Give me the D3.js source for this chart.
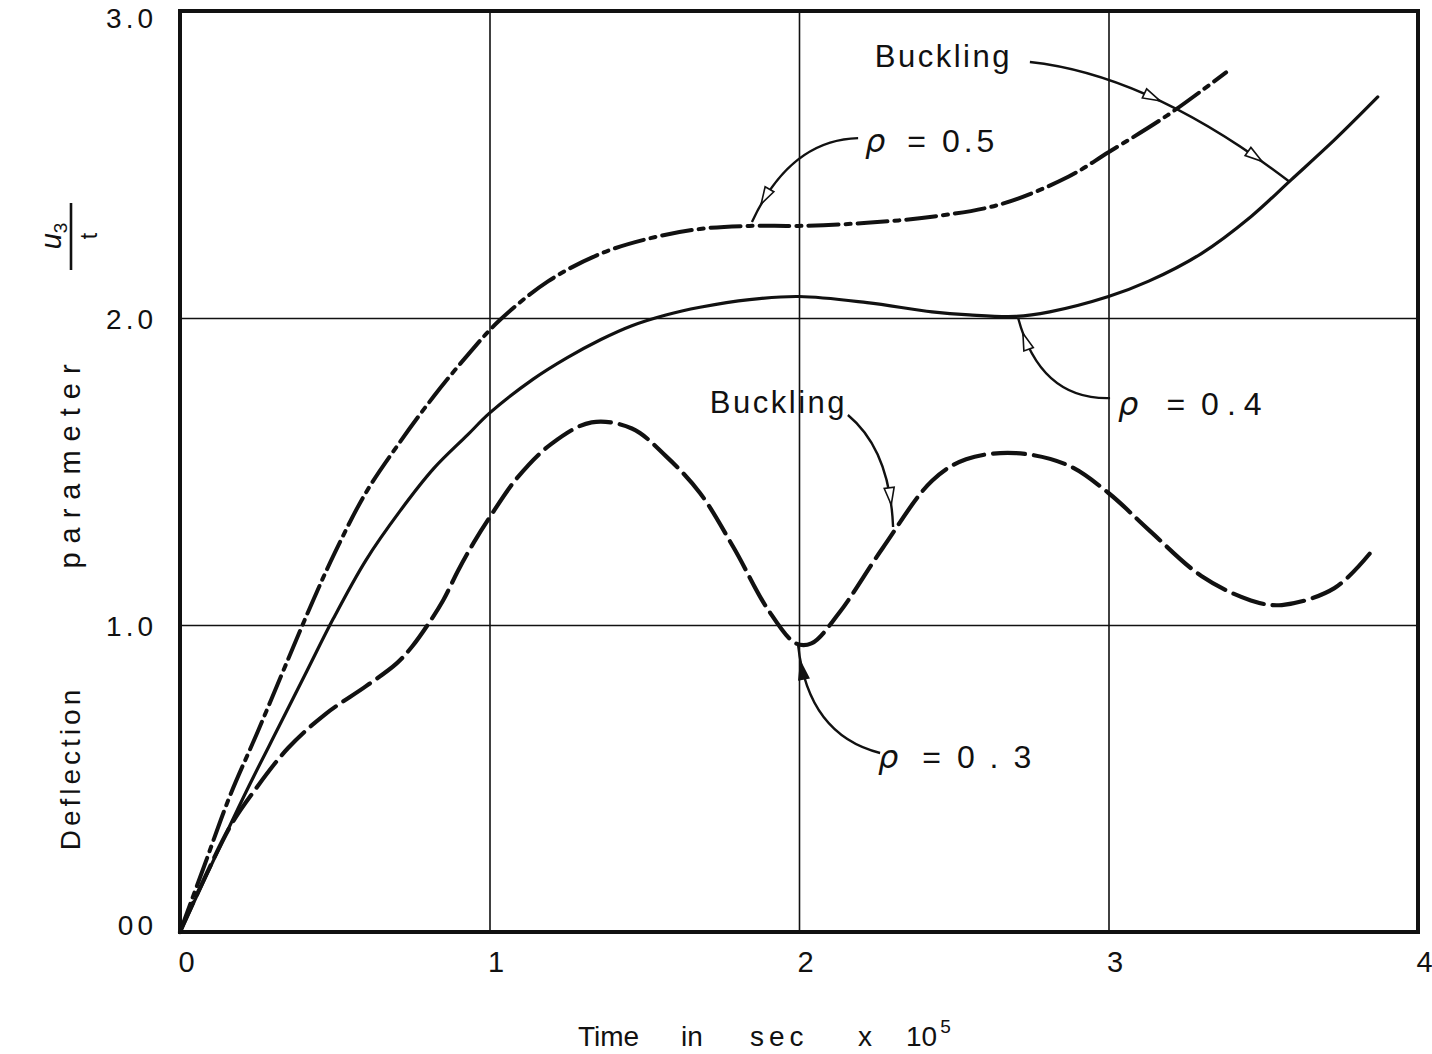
<!DOCTYPE html>
<html>
<head>
<meta charset="utf-8">
<script src="https://cdn.jsdelivr.net/npm/d3@7"></script>
<style>
  html, body { margin: 0; padding: 0; background: #fff; }
  svg { display: block; }
  text { font-family: "Liberation Sans", Arial, sans-serif; fill: #111; }
</style>
</head>
<body>
<svg id="chart" width="1432" height="1054"></svg>
<script>
// ---------- data ----------
const xTicks = [0, 1, 2, 3, 4];
const xTickLabels = ["0", "1", "2", "3", "4"];
const yTicks = [0, 1, 2, 3];
const yTickLabels = ["00", "1.0", "2.0", "3.0"];

// rho = 0.5 (dash-dot)
const t05 = [0, 0.08, 0.16, 0.25, 0.35, 0.43, 0.50, 0.60, 0.71, 0.82, 0.93, 1.03, 1.19, 1.36, 1.52, 1.68, 1.84, 2.0, 2.22, 2.43, 2.65, 2.87, 3.0, 3.19, 3.38];
const v05 = [0, 0.22, 0.44, 0.65, 0.89, 1.08, 1.235, 1.43, 1.595, 1.745, 1.88, 1.99, 2.12, 2.21, 2.26, 2.29, 2.30, 2.30, 2.31, 2.33, 2.37, 2.46, 2.54, 2.66, 2.80];

// rho = 0.4 (solid)
const t04 = [0, 0.13, 0.22, 0.32, 0.41, 0.495, 0.60, 0.71, 0.82, 0.93, 1.0, 1.14, 1.25, 1.36, 1.46, 1.57, 1.68, 1.84, 2.0, 2.22, 2.43, 2.55, 2.70, 2.81, 3.0, 3.13, 3.30, 3.46, 3.59, 3.73, 3.87];
const v04 = [0, 0.28, 0.47, 0.67, 0.85, 1.02, 1.21, 1.37, 1.51, 1.62, 1.69, 1.80, 1.87, 1.93, 1.975, 2.01, 2.035, 2.06, 2.07, 2.05, 2.02, 2.01, 2.005, 2.02, 2.07, 2.12, 2.21, 2.33, 2.45, 2.58, 2.72];

// rho = 0.3 (dashed)
const t03 = [0, 0.16, 0.24, 0.35, 0.47, 0.60, 0.70, 0.75, 0.80, 0.85, 0.90, 0.95, 1.0, 1.09, 1.20, 1.33, 1.46, 1.57, 1.68, 1.79, 1.90, 1.99, 2.04, 2.13, 2.27, 2.43, 2.54, 2.70, 2.87, 3.0, 3.13, 3.30, 3.46, 3.56, 3.73, 3.85];
const v03 = [0, 0.34, 0.46, 0.60, 0.71, 0.80, 0.875, 0.93, 1.0, 1.08, 1.18, 1.27, 1.35, 1.48, 1.59, 1.66, 1.64, 1.55, 1.43, 1.25, 1.05, 0.94, 0.94, 1.04, 1.25, 1.47, 1.54, 1.56, 1.52, 1.43, 1.31, 1.16, 1.08, 1.065, 1.12, 1.24];

// annotations (data units): label anchor, leader start, control, end, arrow positions along leader
const annotations = [
  { kind: "text", label: "Buckling", tx: 2.245, ty: 2.818, p0: [2.746, 2.834], c: [3.134, 2.792], p1: [3.586, 2.443], arrows: [0.47, 0.88], fill: "#fff" },
  { kind: "rho", label: "0.5", tx: 2.213, ty: 2.541, p0: [2.191, 2.586], c: [1.971, 2.580], p1: [1.848, 2.313], arrows: [0.86], fill: "#fff", g1: 22, g2: 16, ls: 4 },
  { kind: "rho", label: "0.4", tx: 3.031, ty: 1.684, p0: [3.005, 1.739], c: [2.779, 1.733], p1: [2.708, 2.0], arrows: [0.88], fill: "#fff", g1: 28, g2: 16, ls: 8 },
  { kind: "text", label: "Buckling", tx: 1.712, ty: 1.691, p0: [2.158, 1.684], c: [2.294, 1.570], p1: [2.304, 1.319], arrows: [0.82], fill: "#fff" },
  { kind: "rho", label: "0 . 3", tx: 2.255, ty: 0.534, p0: [2.262, 0.583], c: [2.029, 0.642], p1: [1.997, 0.935], arrows: [0.88], fill: "#111", g1: 24, g2: 16, ls: 3 }
];

// ---------- layout ----------
const svg = d3.select("#chart");
const L = 180, R = 1418, T = 11, B = 932;
const x = d3.scaleLinear().domain([0, 4]).range([L, R]);
const y = d3.scaleLinear().domain([0, 3]).range([B, T]);

// grid
const gx = svg.append("g").attr("transform", `translate(0,${B})`)
  .call(d3.axisBottom(x).tickValues([1, 2, 3]).tickSize(-(B - T)).tickFormat(""));
gx.select(".domain").remove();
gx.selectAll("line").attr("stroke", "#111").attr("stroke-width", 1.6);

const gy = svg.append("g").attr("transform", `translate(${L},0)`)
  .call(d3.axisLeft(y).tickValues([1, 2]).tickSize(-(R - L)).tickFormat(""));
gy.select(".domain").remove();
gy.selectAll("line").attr("stroke", "#111").attr("stroke-width", 1.6);

// frame
svg.append("rect").attr("x", L).attr("y", T).attr("width", R - L).attr("height", B - T)
  .attr("fill", "none").attr("stroke", "#111").attr("stroke-width", 4);

// tick labels
const ax = svg.append("g").attr("transform", `translate(0,${B})`)
  .call(d3.axisBottom(x).tickValues(xTicks).tickSize(0).tickPadding(0)
    .tickFormat((d, i) => xTickLabels[i]));
ax.select(".domain").remove();
ax.selectAll("text").attr("dy", 0).attr("y", 40).attr("dx", 6)
  .style("font-size", "29px").style("font-family", "Liberation Sans, Arial, sans-serif").attr("fill", "#111");

const ay = svg.append("g").attr("transform", `translate(${L},0)`)
  .call(d3.axisLeft(y).tickValues(yTicks).tickSize(0).tickPadding(0)
    .tickFormat((d, i) => yTickLabels[i]));
ay.select(".domain").remove();
ay.selectAll("text").attr("x", -23).attr("dy", "0.36em")
  .style("font-size", "28px").style("letter-spacing", "4px")
  .style("font-family", "Liberation Sans, Arial, sans-serif").attr("fill", "#111");
ay.selectAll(".tick").filter(d => d === 0).select("text").attr("dy", "0.1em");
ay.selectAll(".tick").filter(d => d === 3).select("text").attr("dy", "0.6em");

// curves
const line = d3.line().x(d => x(d[0])).y(d => y(d[1])).curve(d3.curveCatmullRom.alpha(0.5));
const series = [
  { t: t05, v: v05, dash: "30,7,5,7", w: 4 },
  { t: t04, v: v04, dash: null, w: 3.2 },
  { t: t03, v: v03, dash: "32,9", w: 4.2 }
];
series.forEach(s => {
  const pts = s.t.map((t, i) => [t, s.v[i]]);
  const p = svg.append("path").datum(pts).attr("d", line)
    .attr("fill", "none").attr("stroke", "#111").attr("stroke-width", s.w)
    .attr("stroke-linecap", "round");
  if (s.dash) p.attr("stroke-dasharray", s.dash);
});

// annotations
annotations.forEach(a => {
  const d = `M${x(a.p0[0])},${y(a.p0[1])} Q${x(a.c[0])},${y(a.c[1])} ${x(a.p1[0])},${y(a.p1[1])}`;
  const path = svg.append("path").attr("d", d).attr("fill", "none")
    .attr("stroke", "#111").attr("stroke-width", 2.4);
  const len = path.node().getTotalLength();
  a.arrows.forEach(f => {
    const pA = path.node().getPointAtLength(len * f);
    const pB = path.node().getPointAtLength(Math.min(len, len * f + 2));
    const ang = Math.atan2(pB.y - pA.y, pB.x - pA.x) * 180 / Math.PI;
    svg.append("path").attr("d", "M0,0 L-17,-5 L-17,5 Z")
      .attr("transform", `translate(${pA.x},${pA.y}) rotate(${ang})`)
      .attr("fill", a.fill).attr("stroke", "#111").attr("stroke-width", 1.6);
  });
  const txt = svg.append("text").attr("x", x(a.tx)).attr("y", y(a.ty));
  if (a.kind === "rho") {
    txt.style("font-size", "32px");
    txt.append("tspan").text("ρ").style("font-style", "italic").style("font-family", "DejaVu Sans, sans-serif");
    txt.append("tspan").attr("dx", a.g1).text("=");
    txt.append("tspan").attr("dx", a.g2).text(a.label).style("letter-spacing", a.ls + "px");
  } else {
    txt.style("font-size", "31px").style("letter-spacing", "2.5px").text(a.label);
  }
});

// axis titles
const xt = svg.append("text").attr("y", 1046).style("font-size", "28px");
xt.append("tspan").attr("x", 578).text("Time");
xt.append("tspan").attr("x", 681).text("in");
xt.append("tspan").attr("x", 750).text("sec").style("letter-spacing", "5px");
xt.append("tspan").attr("x", 858).text("x");
xt.append("tspan").attr("x", 906).text("10");
xt.append("tspan").attr("dy", -13).attr("dx", 3).text("5").style("font-size", "19px");

const yt = svg.append("g").attr("transform", "translate(80,0) rotate(-90)");
yt.append("text").attr("x", -768).attr("y", 0).attr("text-anchor", "middle")
  .style("font-size", "28px").style("letter-spacing", "4px").text("Deflection");
yt.append("text").attr("x", -462).attr("y", 0).attr("text-anchor", "middle")
  .style("font-size", "29px").style("letter-spacing", "9px").text("parameter");
// fraction u3 / t
yt.append("line").attr("x1", -203).attr("x2", -270).attr("y1", -9).attr("y2", -9)
  .attr("stroke", "#111").attr("stroke-width", 2.6);
const num = yt.append("text").attr("x", -236).attr("y", -19).attr("text-anchor", "middle")
  .style("font-size", "29px").style("font-style", "italic");
num.append("tspan").text("u");
num.append("tspan").attr("dy", 6).style("font-size", "19px").style("font-style", "normal").text("3");
yt.append("text").attr("x", -236).attr("y", 17).attr("text-anchor", "middle")
  .style("font-size", "23px").text("t");
</script>
</body>
</html>
